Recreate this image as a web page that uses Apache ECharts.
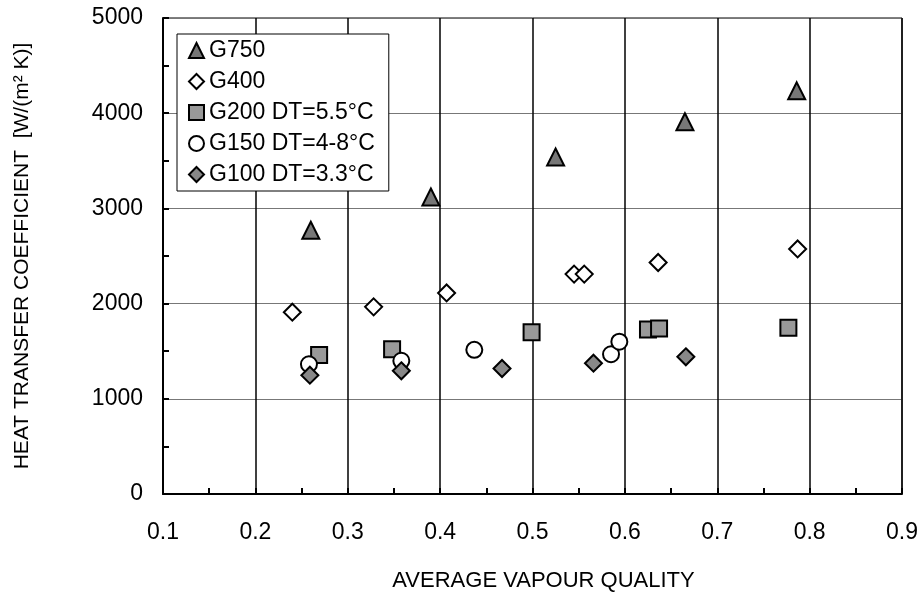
<html>
<head>
    <meta charset="utf-8">
    <script src="https://cdn.jsdelivr.net/npm/echarts@6/dist/echarts.min.js"></script>
    <style>
        body { margin: 0; background: #fff; }
        #chart { width: 921px; height: 597px; }
    </style>
</head>
<body>
    <div id="chart"></div>
    <script>
        // points: [vapour quality, HTC]
        var g750 = [[0.26, 2770], [0.39, 3120], [0.525, 3540], [0.665, 3910], [0.786, 4235]];
        var g400 = [[0.24, 1910], [0.328, 1966], [0.407, 2112], [0.545, 2310], [0.556, 2310], [0.636, 2432], [0.787, 2574]];
        var g200 = [[0.269, 1461], [0.348, 1520], [0.499, 1700], [0.625, 1729], [0.637, 1739], [0.777, 1746]];
        var g150 = [[0.258, 1363], [0.358, 1399], [0.437, 1514], [0.585, 1468], [0.594, 1600]];
        var g100 = [[0.259, 1248], [0.358, 1294], [0.467, 1318], [0.566, 1374], [0.666, 1441]];

        var names = ['G750', 'G400', 'G200 DT=5.5°C', 'G150 DT=4-8°C', 'G100 DT=3.3°C'];
        var font = '"Liberation Sans", Arial, sans-serif';

        function mk(name, data, symbol, size, fill) {
            return {
                name: name,
                type: 'scatter',
                data: data,
                symbol: symbol,
                symbolSize: size,
                itemStyle: { color: fill, borderColor: '#000', borderWidth: 2, opacity: 1 }
            };
        }

        var chart = echarts.init(document.getElementById('chart'));
        chart.setOption({
            animation: false,
            backgroundColor: '#fff',
            textStyle: { fontFamily: font, color: '#000' },
            grid: {
                left: 163, right: 18, top: 18, bottom: 100,
                show: true, borderColor: '#000', borderWidth: 1
            },
            legend: {
                orient: 'vertical',
                left: 177,
                top: 34,
                data: names,
                itemWidth: 15,
                itemHeight: 15,
                itemGap: 8,
                padding: [5, 14, 5, 11],
                backgroundColor: '#fff',
                borderColor: '#000',
                borderWidth: 1,
                textStyle: { fontFamily: font, fontSize: 23, color: '#000', lineHeight: 23 }
            },
            xAxis: {
                type: 'value',
                min: 0.1,
                max: 0.9,
                interval: 0.1,
                name: 'AVERAGE VAPOUR QUALITY',
                nameLocation: 'middle',
                nameGap: 76,
                nameTextStyle: { fontFamily: font, fontSize: 22, color: '#000', padding: [0, 0, 0, 22] },
                axisLine: { lineStyle: { color: '#000', width: 2 } },
                axisTick: { inside: true, length: 6, lineStyle: { color: '#000', width: 2 } },
                minorTick: { show: true, splitNumber: 2, length: 6, lineStyle: { color: '#000', width: 2 } },
                axisLabel: {
                    fontFamily: font, fontSize: 23, color: '#000', margin: 27,
                    formatter: function (v) { return v.toFixed(1); }
                },
                splitLine: { show: true, lineStyle: { color: '#000', width: 1.5 } }
            },
            yAxis: {
                type: 'value',
                min: 0,
                max: 5000,
                interval: 1000,
                name: 'HEAT TRANSFER COEFFICIENT  [W/(m² K)]',
                nameLocation: 'middle',
                nameRotate: 90,
                nameGap: 130,
                nameTextStyle: { fontFamily: font, fontSize: 21, color: '#000' },
                axisLine: { show: true, lineStyle: { color: '#000', width: 2 } },
                axisTick: { show: true, inside: true, length: 6, lineStyle: { color: '#000', width: 2 } },
                minorTick: { show: true, splitNumber: 2, length: 6, lineStyle: { color: '#000', width: 2 } },
                axisLabel: {
                    fontFamily: font, fontSize: 23, color: '#000', margin: 20,
                    formatter: function (v) { return String(v); }
                },
                splitLine: { show: true, lineStyle: { color: '#777', width: 1 } }
            },
            series: [
                mk(names[0], g750, 'triangle', 17, '#777'),
                mk(names[1], g400, 'diamond', 17, '#fff'),
                mk(names[2], g200, 'rect', 16, '#999'),
                mk(names[3], g150, 'circle', 16, '#fff'),
                mk(names[4], g100, 'diamond', 17, '#888')
            ]
        });
    </script>
</body>
</html>
